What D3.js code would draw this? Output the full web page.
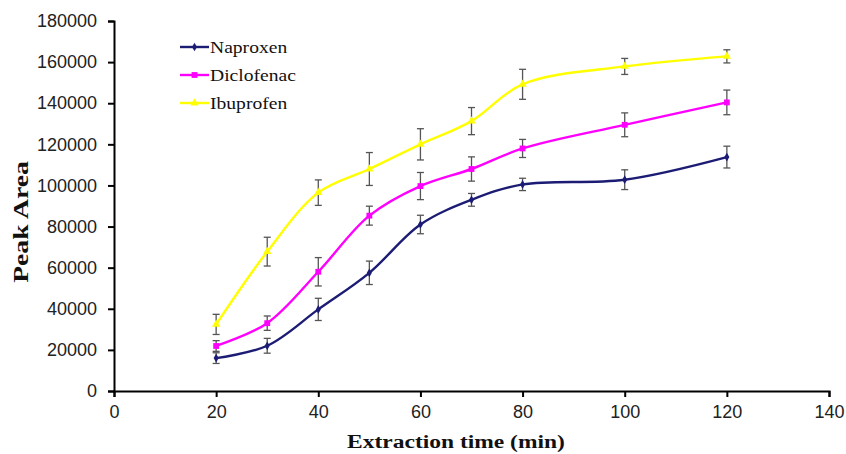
<!DOCTYPE html>
<html>
<head>
<meta charset="utf-8">
<script src="https://cdn.jsdelivr.net/npm/d3@7"></script>
<style>
	body { margin: 0; background: #fff; }
	.tick text { font-family: "Liberation Sans", Arial, sans-serif; font-size: 18px; fill: #222; }
	.axis path, .axis line { stroke: #000; stroke-width: 2px; }
</style>
</head>
<body>
<div id="chart"></div>
<script>
var times = [20, 30, 40, 50, 60, 70, 80, 100, 120];
var naproxen = [16000, 22000, 39700, 57500, 81000, 93000, 100500, 102800, 113800];
var naproxenErr = [2600, 3600, 5400, 5700, 4500, 3100, 3000, 4800, 5300];
var diclofenac = [21900, 33000, 58000, 85300, 99700, 108000, 118000, 129500, 140400];
var diclofenacErr = [2600, 3500, 6900, 4600, 6600, 5900, 4400, 5800, 6000];
var ibuprofen = [32400, 67800, 96500, 108000, 120000, 131300, 149200, 157900, 162800];
var ibuprofenErr = [4900, 7000, 6200, 8000, 7600, 6600, 7300, 3900, 3200];
var xTicks = [0, 20, 40, 60, 80, 100, 120, 140];
var yTicks = [0, 20000, 40000, 60000, 80000, 100000, 120000, 140000, 160000, 180000];

var series = [
	{ name: "Naproxen", values: naproxen, err: naproxenErr, color: "#1c1c74", marker: d3.symbolDiamond, size: 22 },
	{ name: "Diclofenac", values: diclofenac, err: diclofenacErr, color: "#ff00ff", marker: d3.symbolSquare, size: 34 },
	{ name: "Ibuprofen", values: ibuprofen, err: ibuprofenErr, color: "#ffff00", marker: d3.symbolTriangle, size: 30 }
];

var W = 846, H = 454;
var margin = { top: 21, right: 17, bottom: 63, left: 114 };
var width = W - margin.left - margin.right;
var height = H - margin.top - margin.bottom;

var svg = d3.select("#chart").append("svg")
	.attr("width", W)
	.attr("height", H);

var g = svg.append("g")
	.attr("transform", "translate(" + margin.left + "," + margin.top + ")");

var x = d3.scaleLinear().domain([0, 140]).range([0, width]);
var y = d3.scaleLinear().domain([0, 180000]).range([height, 0]);

// axes
g.append("g")
	.attr("class", "axis")
	.attr("transform", "translate(0," + height + ")")
	.call(d3.axisBottom(x).tickValues(xTicks).tickSize(6).tickSizeOuter(6).tickPadding(6))
	.selectAll(".tick text").attr("dy", "0.85em");

g.append("g")
	.attr("class", "axis")
	.call(d3.axisLeft(y).tickValues(yTicks).tickSize(6).tickSizeOuter(6).tickPadding(11).tickFormat(d3.format("d")));

// error bars, lines, markers
var line = d3.line()
	.x(function (d, i) { return x(times[i]); })
	.y(function (d) { return y(d); })
	.curve(d3.curveCatmullRom.alpha(0.5));

series.forEach(function (s) {
	var eb = g.append("g").attr("stroke", "#555").attr("stroke-width", 1.3);
	s.values.forEach(function (v, i) {
		var cx = x(times[i]);
		eb.append("line").attr("x1", cx).attr("x2", cx).attr("y1", y(v - s.err[i])).attr("y2", y(v + s.err[i]));
		eb.append("line").attr("x1", cx - 3.5).attr("x2", cx + 3.5).attr("y1", y(v - s.err[i])).attr("y2", y(v - s.err[i]));
		eb.append("line").attr("x1", cx - 3.5).attr("x2", cx + 3.5).attr("y1", y(v + s.err[i])).attr("y2", y(v + s.err[i]));
	});
});

series.forEach(function (s) {
	g.append("path")
		.datum(s.values)
		.attr("fill", "none")
		.attr("stroke", s.color)
		.attr("stroke-width", 2.4)
		.attr("d", line);

	g.selectAll(null)
		.data(s.values)
		.enter().append("path")
		.attr("transform", function (d, i) { return "translate(" + x(times[i]) + "," + y(d) + ")"; })
		.attr("d", d3.symbol().type(s.marker).size(s.size))
		.attr("fill", s.color);
});

// legend
var legend = svg.append("g").attr("transform", "translate(180,47)");
series.forEach(function (s, i) {
	var row = legend.append("g").attr("transform", "translate(0," + (i * 28) + ")");
	row.append("line").attr("x1", 0).attr("x2", 29).attr("stroke", s.color).attr("stroke-width", 2.4);
	row.append("path")
		.attr("transform", "translate(14.5,0)")
		.attr("d", d3.symbol().type(s.marker).size(s.size))
		.attr("fill", s.color);
	row.append("text")
		.attr("transform", "translate(30,0) scale(1.12,1)")
		.attr("dy", "0.35em")
		.attr("font-family", "'Liberation Serif', 'Times New Roman', serif")
		.attr("font-size", 17.5)
		.attr("fill", "#111")
		.text(s.name);
});

// axis titles
svg.append("text")
	.attr("transform", "translate(456,441) scale(1.25,1)")
	.attr("text-anchor", "middle")
	.attr("dy", "0.35em")
	.attr("font-family", "'Liberation Serif', 'Times New Roman', serif")
	.attr("font-weight", "bold")
	.attr("font-size", 18.8)
	.attr("fill", "#111")
	.text("Extraction time (min)");

svg.append("text")
	.attr("transform", "translate(21,222) rotate(-90) scale(1.35,1)")
	.attr("text-anchor", "middle")
	.attr("dy", "0.35em")
	.attr("font-family", "'Liberation Serif', 'Times New Roman', serif")
	.attr("font-weight", "bold")
	.attr("font-size", 20.5)
	.attr("fill", "#111")
	.text("Peak Area");
</script>
</body>
</html>
